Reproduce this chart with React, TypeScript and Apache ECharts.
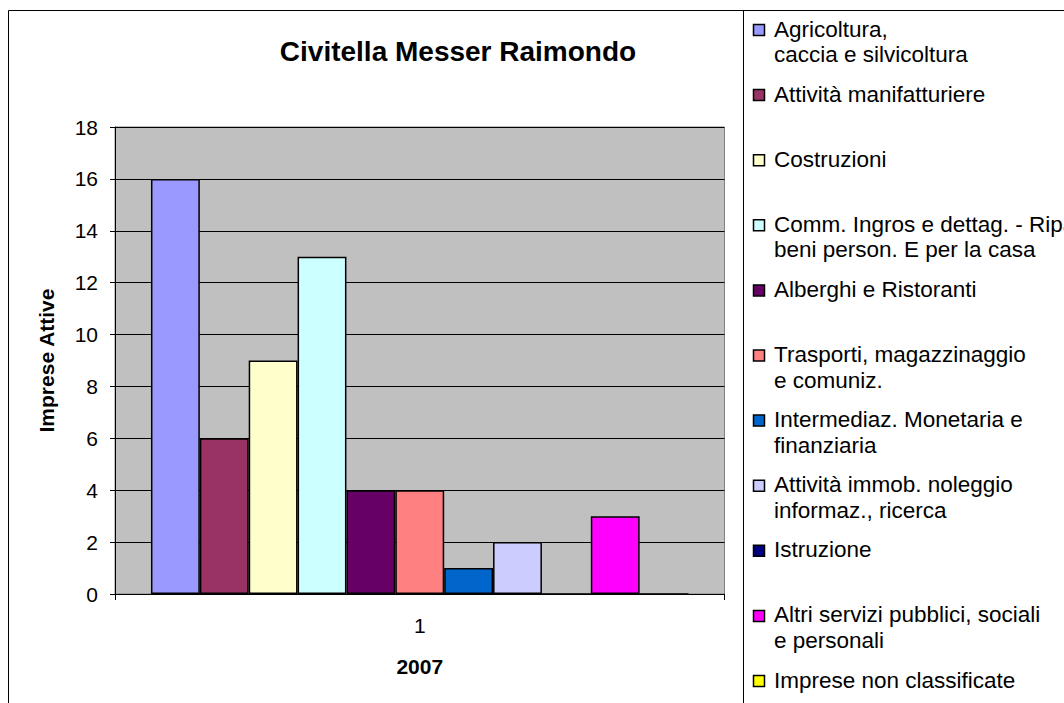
import React, { useEffect, useRef } from "react";
import * as echarts from "echarts";

const title = "Civitella Messer Raimondo";
const categories = ["1"];
const xAxisTitle = "2007";
const yAxisTitle = "Imprese Attive";
const seriesNames = [
  "Agricoltura,\ncaccia e silvicoltura",
  "Attività manifatturiere",
  "Costruzioni",
  "Comm. Ingros e dettag. - Riparaz.\nbeni person. E per la casa",
  "Alberghi e Ristoranti",
  "Trasporti, magazzinaggio\ne comuniz.",
  "Intermediaz. Monetaria e\nfinanziaria",
  "Attività immob. noleggio\ninformaz., ricerca",
  "Istruzione",
  "Altri servizi pubblici, sociali\ne personali",
  "Imprese non classificate",
];
const seriesValues = [16, 6, 9, 13, 4, 4, 1, 2, 0, 3, 0];
const seriesColors = [
  "#9999FF",
  "#993366",
  "#FFFFCC",
  "#CCFFFF",
  "#660066",
  "#FF8080",
  "#0066CC",
  "#CCCCFF",
  "#000080",
  "#FF00FF",
  "#FFFF00",
];
const yTicks = { min: 0, max: 18, interval: 2 };

const FONT = "'Liberation Sans', Arial, sans-serif";

export default function App() {
  const ref = useRef<HTMLDivElement>(null);
  useEffect(() => {
    if (!ref.current) return;
    const chart = echarts.init(ref.current, null, { renderer: "svg" });

    const legendX = 753;
    const firstBaseline = 37;
    const step = 65.1;
    const lineH = 25.5;
    const legendGraphics: any[] = [];
    seriesNames.forEach((name, i) => {
      const base = firstBaseline + i * step;
      legendGraphics.push({
        type: "rect",
        shape: { x: legendX + 0.5, y: base - 13 + 0.5, width: 11, height: 11 },
        style: { fill: seriesColors[i], stroke: "#000", lineWidth: 1.5 },
        z: 10,
      });
      legendGraphics.push({
        type: "text",
        x: 774,
        y: base - 8 - lineH / 2,
        style: {
          text: name,
          font: `22.5px ${FONT}`,
          fill: "#000",
          verticalAlign: "top",
          align: "left",
          lineHeight: lineH,
        },
        z: 10,
      });
    });

    const option: any = {
      animation: false,
      backgroundColor: "#fff",
      title: {
        text: title,
        left: 453,
        textAlign: "center",
        top: 32,
        textStyle: {
          fontFamily: FONT,
          fontSize: 28,
          fontWeight: "bold",
          color: "#000",
        },
      },
      grid: {
        left: 115,
        top: 127,
        right: 1064 - 724.5,
        bottom: 703 - 594,
        show: true,
        backgroundColor: "#C0C0C0",
        borderColor: "#808080",
        borderWidth: 1,
      },
      xAxis: {
        type: "category",
        data: categories,
        name: xAxisTitle,
        nameLocation: "middle",
        nameGap: 62,
        nameTextStyle: {
          fontFamily: FONT,
          fontSize: 21,
          fontWeight: "bold",
          color: "#000",
        },
        axisLine: { show: true, lineStyle: { color: "#000", width: 1 } },
        axisTick: { show: true, length: 6, lineStyle: { color: "#000" } },
        axisLabel: {
          fontFamily: FONT,
          fontSize: 21,
          color: "#000",
          margin: 21,
        },
        splitLine: { show: false },
      },
      yAxis: {
        type: "value",
        min: yTicks.min,
        max: yTicks.max,
        interval: yTicks.interval,
        name: yAxisTitle,
        nameLocation: "middle",
        nameGap: 58,
        nameRotate: 90,
        nameTextStyle: {
          fontFamily: FONT,
          fontSize: 21,
          fontWeight: "bold",
          color: "#000",
        },
        axisLine: { show: true, lineStyle: { color: "#000", width: 1 } },
        axisTick: { show: true, length: 5, lineStyle: { color: "#000" } },
        axisLabel: {
          fontFamily: FONT,
          fontSize: 21,
          color: "#000",
          margin: 17,
        },
        splitLine: { show: true, lineStyle: { color: "#000", width: 1 } },
      },
      series: seriesNames.map((name, i) => ({
        type: "bar",
        name,
        data: [seriesValues[i]],
        barGap: "0%",
        barCategoryGap: "11.8%",
        itemStyle: {
          color: seriesColors[i],
          borderColor: "#000",
          borderWidth: 1.5,
        },
      })),
      graphic: [
        {
          type: "rect",
          shape: { x: 8.5, y: 10.5, width: 1200, height: 1000 },
          style: { fill: "none", stroke: "#000", lineWidth: 1 },
          silent: true,
          z: 20,
        },
        {
          type: "line",
          shape: { x1: 743.5, y1: 10, x2: 743.5, y2: 703 },
          style: { stroke: "#000", lineWidth: 1 },
          silent: true,
          z: 20,
        },
        ...legendGraphics,
      ],
    };
    chart.setOption(option);
    return () => chart.dispose();
  }, []);
  return (
    <div
      ref={ref}
      style={{ position: "absolute", left: 0, top: 0, width: 1064, height: 703 }}
    />
  );
}
